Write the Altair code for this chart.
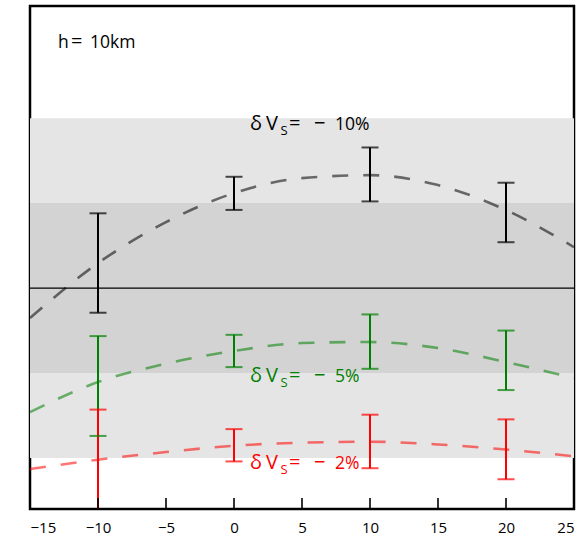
import altair as alt
import pandas as pd

# Plot geometry (plot area only)
W, H = 544, 503
Y_MIN, Y_MAX = -2.6, 3.32
FONT = "Open Sans"

# Error-bar measurements at each offset
xs = [-10, 0, 10, 20]
black_lo = [-0.29, 0.92, 1.02, 0.54]
black_hi = [0.88, 1.31, 1.655, 1.24]
green_lo = [-1.74, -0.93, -0.95, -1.20]
green_hi = [-0.565, -0.55, -0.31, -0.50]
red_lo = [-3.0, -2.04, -2.12, -2.25]
red_hi = [-1.43, -1.66, -1.49, -1.545]

# Model curves
curve_x = [-15, -10, -5, 0, 5, 10, 15, 20, 25]
black_curve = [-0.353, 0.294, 0.776, 1.118, 1.294, 1.329, 1.212, 0.918, 0.482]
green_curve = [-1.46, -1.106, -0.89, -0.74, -0.647, -0.635, -0.706, -0.87, -1.06]
red_curve = [-2.13, -2.02, -1.93, -1.855, -1.82, -1.808, -1.84, -1.90, -1.98]

# Shaded bands (one and two units around zero)
band_lo = [-2, -1]
band_hi = [2, 1]
band_color = ["#e5e5e5", "#d3d3d3"]

tick_values = [-15, -10, -5, 0, 5, 10, 15, 20, 25]

series_names = ["black", "green", "red"]
series_colors = ["#000000", "#008000", "#ff0000"]
label_num = ["10%", "5%", "2%"]
label_x = [1.18, 1.18, 1.18]
label_y = [1.859, -1.106, -2.129]

xscale = alt.Scale(domain=[-15, 25], nice=False, zero=False)
yscale = alt.Scale(domain=[Y_MIN, Y_MAX], nice=False, zero=False)

x_axis = alt.Axis(values=tick_values, ticks=False, domain=False, grid=False,
                  labelFontSize=15, labelFont=FONT, labelColor="black",
                  labelPadding=11, title=None)


def X(field="x"):
    return alt.X(f"{field}:Q", scale=xscale, axis=x_axis)


def Y(field="y"):
    return alt.Y(f"{field}:Q", scale=yscale, axis=None)


ecolor = alt.Color("s:N", scale=alt.Scale(domain=series_names, range=series_colors), legend=None)

bands = pd.DataFrame({"lo": band_lo, "hi": band_hi, "c": band_color})
band_layer = alt.Chart(bands).mark_rect().encode(
    x=alt.value(0), x2=alt.value(W),
    y=Y("lo"), y2=alt.Y2("hi"),
    color=alt.Color("c:N", scale=None),
)

zero_layer = alt.Chart(pd.DataFrame({"y": [0]})).mark_rule(
    color="black", strokeWidth=1.2
).encode(y=Y("y"), x=alt.value(0), x2=alt.value(W))

curve_rows = []
for name, vals in zip(series_names, [black_curve, green_curve, red_curve]):
    for xv, yv in zip(curve_x, vals):
        curve_rows.append({"s": name, "x": xv, "y": yv})
curves = pd.DataFrame(curve_rows)
curve_layer = alt.Chart(curves).mark_line(
    strokeDash=[16, 15], strokeWidth=2.6, opacity=0.55,
    interpolate="monotone", clip=True
).encode(x=X("x"), y=Y("y"), color=ecolor, detail="s:N")

err_rows = []
for name, lo, hi in zip(series_names, [black_lo, green_lo, red_lo], [black_hi, green_hi, red_hi]):
    for xv, l, h in zip(xs, lo, hi):
        err_rows.append({"s": name, "x": xv, "lo": l, "hi": h})
errs = pd.DataFrame(err_rows)

err_rule = alt.Chart(errs).mark_rule(strokeWidth=2, clip=True).encode(
    x=X("x"), y=Y("lo"), y2=alt.Y2("hi"), color=ecolor
)
cap_lo = alt.Chart(errs).mark_tick(orient="horizontal", size=17, thickness=2, clip=True).encode(
    x=X("x"), y=Y("lo"), color=ecolor
)
cap_hi = alt.Chart(errs).mark_tick(orient="horizontal", size=17, thickness=2, clip=True).encode(
    x=X("x"), y=Y("hi"), color=ecolor
)

# Inward-pointing x ticks along the bottom frame
ticks = pd.DataFrame({"x": tick_values})
tick_layer = alt.Chart(ticks).mark_rule(color="black", strokeWidth=1.6).encode(
    x=X("x"), y=alt.value(H), y2=alt.value(H - 11)
)

# Curve labels: delta V_S = - N%, assembled from spaced pieces
labels = pd.DataFrame({"x": label_x, "y": label_y, "num": label_num, "s": series_names})


def piece(text, dx, size, dy=0):
    t = alt.value(text) if not text.startswith("field:") else alt.Text(text[6:] + ":N")
    return alt.Chart(labels).mark_text(
        font=FONT, fontSize=size, align="left", baseline="alphabetic", dx=dx, dy=dy
    ).encode(x=X("x"), y=Y("y"), text=t, color=ecolor)


label_layers = [
    piece("\u03b4", 0, 20),
    piece("V", 16, 20),
    piece("S", 30.5, 13, dy=5),
    piece("=", 39, 20),
    piece("\u2212", 64, 20),
    piece("field:num", 85, 17.5),
]

hdf = pd.DataFrame({"x": [-12.94], "y": [2.82]})


def hpiece(text, dx, size=17.5):
    return alt.Chart(hdf).mark_text(
        font=FONT, fontSize=size, align="left", baseline="alphabetic", dx=dx, color="black"
    ).encode(x=X("x"), y=Y("y"), text=alt.value(text))


h_layers = [hpiece("h", 0), hpiece("=", 13, 20), hpiece("10km", 32)]

chart = alt.layer(
    band_layer, zero_layer, curve_layer, err_rule, cap_lo, cap_hi,
    tick_layer, *label_layers, *h_layers
).properties(
    width=W, height=H,
    autosize=alt.AutoSizeParams(type="none"),
    padding={"left": 30, "top": 6, "right": 9, "bottom": 29},
    background="white",
).configure_view(stroke="black", strokeWidth=2.5)

chart.save("out.html", embed_options={"renderer": "svg", "actions": False})
